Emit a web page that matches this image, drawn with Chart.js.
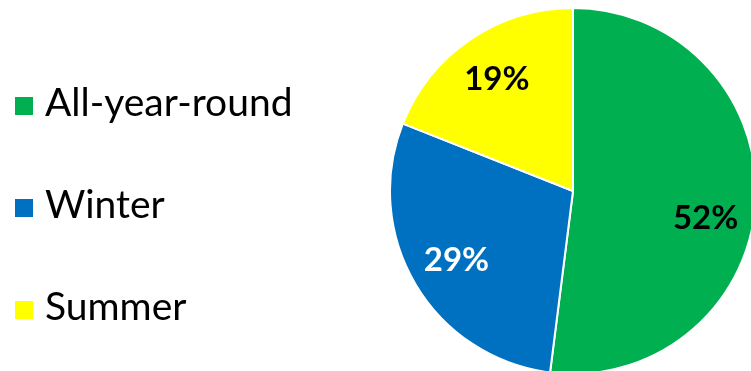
<!DOCTYPE html>
<html>
<head>
<meta charset="utf-8">
<script src="https://cdn.jsdelivr.net/npm/chart.js@4"></script>
<style>
  html, body { margin: 0; padding: 0; background: #fff; overflow: hidden; }
  #wrap { position: relative; width: 751px; height: 371px; }
  #pieChart { position: absolute; left: 0; top: 0; }
  #legend { position: absolute; left: 15px; top: 0; font-family: Lato, 'Open Sans', sans-serif; font-size: 39px; color: #000; }
  .item { position: absolute; left: 0; white-space: nowrap; height: 40px; line-height: 40px; }
  .item .box { display: inline-block; width: 18px; height: 18px; margin-right: 12px; vertical-align: 1px; }
</style>
</head>
<body>
<div id="wrap">
  <canvas id="pieChart" width="751" height="371"></canvas>
  <div id="legend"></div>
</div>
<script>
// ==========================
// Data
// ==========================
const seasons = ['All-year-round', 'Winter', 'Summer'];
const shares = [52, 29, 19];
const sliceColors = ['#00B050', '#0070C0', '#FFFF00'];
const labelColors = ['#000000', '#ffffff', '#000000'];

// legend on the left, built from the same arrays
const legendTops = [81, 183, 285];
const legend = document.getElementById('legend');
seasons.forEach((name, i) => {
  const row = document.createElement('div');
  row.className = 'item';
  row.style.top = legendTops[i] + 'px';
  row.innerHTML = '<span class="box" style="background:' + sliceColors[i] + '"></span>' + name;
  legend.appendChild(row);
});

// percentage labels inside the slices
// (the big slice's label sits a bit lower so it stays clear of the right edge)
const labelTurn = [0.14, 0, 0];
const sliceLabels = {
  id: 'sliceLabels',
  afterDatasetsDraw(chart) {
    const ctx = chart.ctx;
    const meta = chart.getDatasetMeta(0);
    ctx.save();
    ctx.font = 'bold 33px Lato, sans-serif';
    ctx.textAlign = 'center';
    ctx.textBaseline = 'middle';
    meta.data.forEach((arc, i) => {
      const mid = (arc.startAngle + arc.endAngle) / 2 + labelTurn[i];
      const r = arc.outerRadius * 0.74;
      ctx.fillStyle = labelColors[i];
      ctx.fillText(shares[i] + '%', arc.x + Math.cos(mid) * r, arc.y + Math.sin(mid) * r);
    });
    ctx.restore();
  }
};

new Chart(document.getElementById('pieChart').getContext('2d'), {
  type: 'pie',
  data: {
    labels: seasons,
    datasets: [{
      data: shares,
      backgroundColor: sliceColors,
      borderColor: '#ffffff',
      borderWidth: 2,
      radius: 183
    }]
  },
  options: {
    responsive: false,
    animation: false,
    layout: { padding: { left: 395, top: 11 } },
    plugins: {
      legend: { display: false },
      tooltip: { enabled: false }
    }
  },
  plugins: [sliceLabels]
});
</script>
</body>
</html>
